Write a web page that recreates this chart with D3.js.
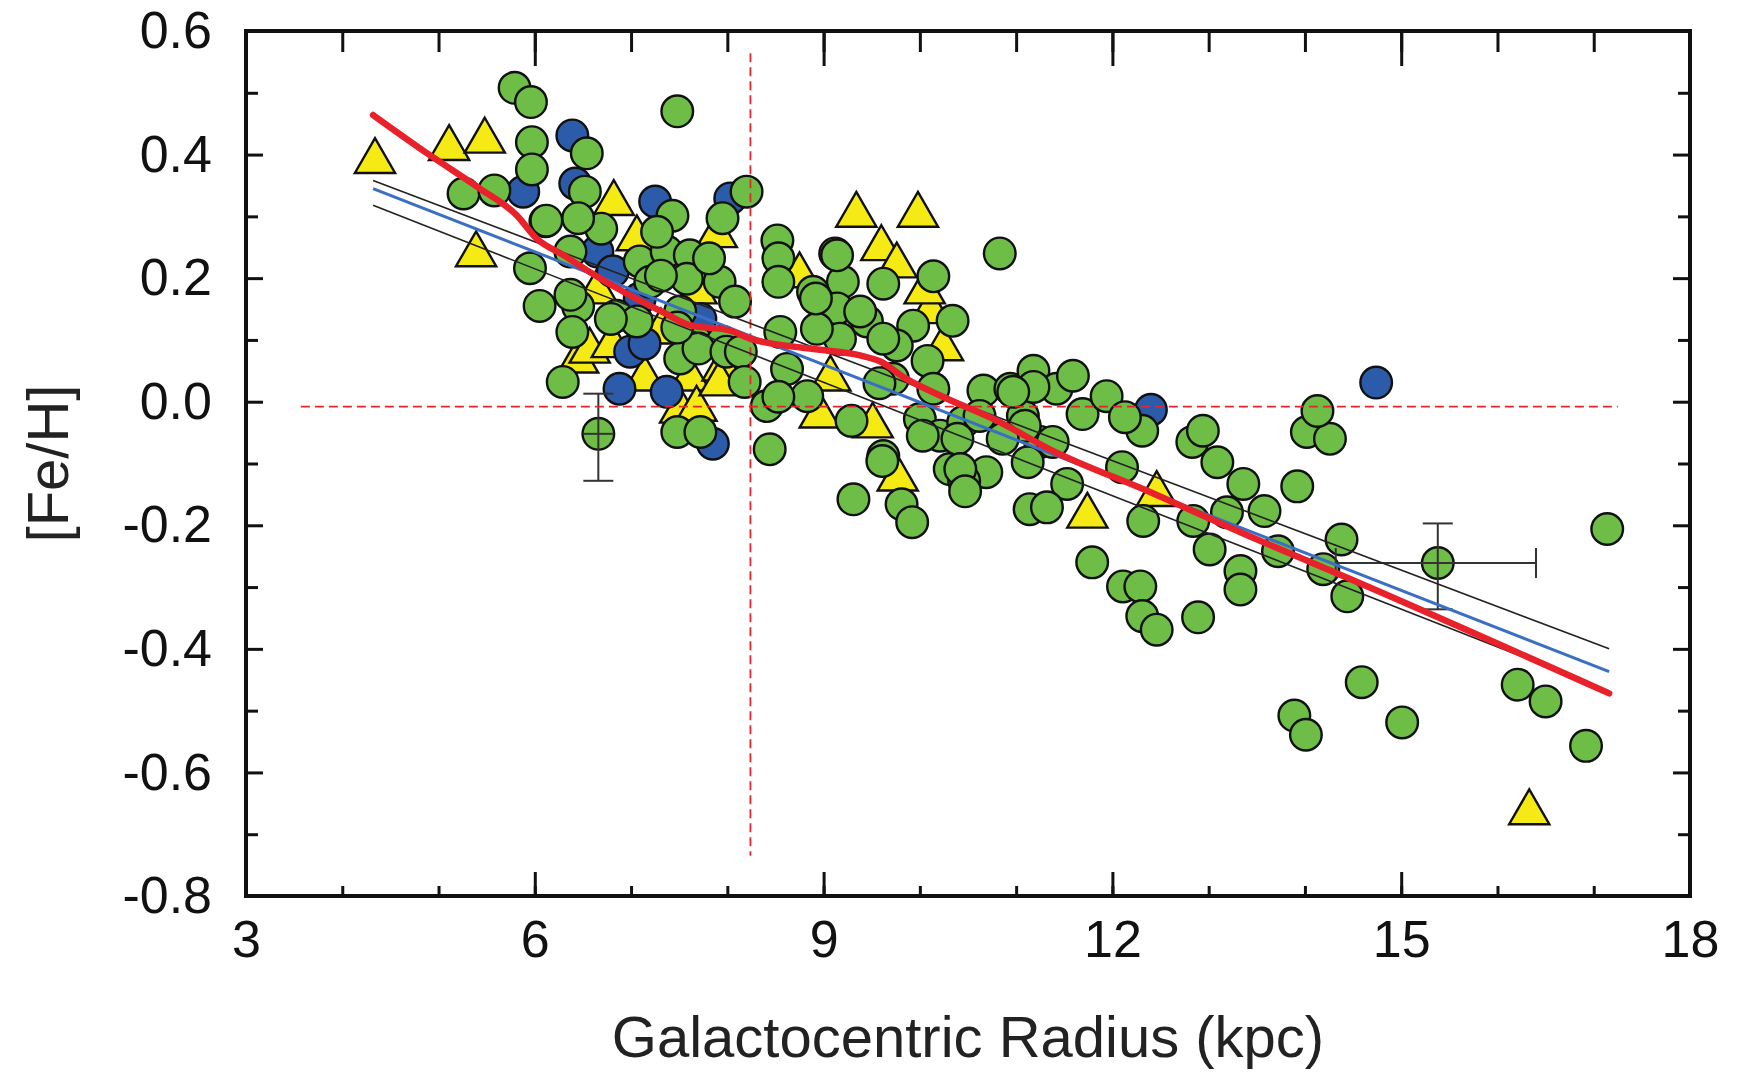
<!DOCTYPE html>
<html>
<head>
<meta charset="utf-8">
<script src="https://cdn.jsdelivr.net/npm/d3@7"></script>
<style>
  body { margin: 0; background: #fff; }
  svg { display: block; font-family: "Liberation Sans", Arial, sans-serif; }
</style>
</head>
<body>
<svg width="1738" height="1074"></svg>
<script>
// values: [galactocentric radius (kpc), [Fe/H]]
const greenStars = [
  [5.79,0.508],[5.96,0.485],[5.97,0.420],[5.97,0.376],[5.26,0.337],[5.58,0.342],[7.48,0.470],
  [6.54,0.402],[6.52,0.340],[6.11,0.292],[6.69,0.280],[6.45,0.297],[5.95,0.216],[6.37,0.243],
  [6.05,0.155],[6.45,0.154],[6.39,0.113],[6.29,0.032],[7.43,0.301],[7.95,0.297],[7.09,0.227],
  [7.37,0.243],[7.61,0.237],[7.58,0.199],[7.20,0.194],[7.92,0.194],[6.85,0.139],[7.06,0.130],
  [7.51,0.146],[7.68,0.097],[7.51,0.070],[7.95,0.097],[7.48,-0.049],[7.72,-0.049],[6.12,0.293],
  [6.79,0.134],[7.31,0.204],[7.81,0.232],[8.08,0.162],[7.70,0.086],[7.99,0.081],[8.14,0.081],
  [8.18,0.032],[8.20,0.340],[10.83,0.240],[8.52,0.261],[8.53,0.232],[9.12,0.240],[10.14,0.203],
  [9.62,0.191],[9.20,0.194],[8.89,0.178],[8.53,0.194],[9.14,0.151],[9.45,0.130],[9.93,0.123],
  [10.34,0.131],[9.76,0.091],[10.08,0.066],[9.17,0.102],[8.93,0.118],[8.55,0.113],[8.62,0.053],
  [8.83,0.009],[8.41,-0.007],[9.29,-0.031],[8.44,-0.077],[9.62,-0.088],[10.66,0.018],[10.94,0.021],
  [11.18,0.050],[11.42,0.021],[11.59,0.042],[11.07,-0.023],[11.69,-0.020],[10.00,-0.028],
  [10.21,-0.055],[10.45,-0.033],[11.25,-0.065],[9.72,0.037],[10.14,0.021],[8.53,0.008],
  [9.61,-0.096],[9.31,-0.158],[9.81,-0.166],[9.92,-0.195],[10.03,-0.055],[10.31,-0.109],
  [9.38,0.146],[8.92,0.167],[9.14,0.237],[9.62,0.102],[10.69,-0.114],[10.46,-0.128],
  [11.18,0.024],[10.97,0.016],[11.94,0.009],[12.31,-0.047],[12.13,-0.025],[11.09,-0.039],
  [10.86,-0.060],[10.62,-0.023],[10.39,-0.060],[10.42,-0.109],[10.47,-0.145],[11.12,-0.098],
  [11.38,-0.065],[11.53,-0.133],[11.14,-0.174],[11.32,-0.171],[12.10,-0.106],[12.32,-0.193],
  [12.83,-0.065],[12.94,-0.047],[13.09,-0.098],[13.36,-0.133],[12.84,-0.193],[13.01,-0.239],
  [13.19,-0.179],[13.33,-0.274],[13.33,-0.304],[13.58,-0.177],[13.72,-0.242],[13.92,-0.137],
  [14.02,-0.049],[14.26,-0.060],[14.13,-0.015],[14.19,-0.271],[14.38,-0.223],[14.44,-0.315],
  [11.79,-0.260],[12.11,-0.299],[12.29,-0.299],[12.31,-0.347],[12.46,-0.369],[12.89,-0.349],
  [13.89,-0.508],[14.01,-0.539],[14.59,-0.454],[15.01,-0.519],[16.21,-0.458],[16.50,-0.485],
  [16.92,-0.557],[17.14,-0.206],[6.37,0.173],[7.27,0.275],[7.48,0.120],[9.58,0.030]
];

const blueStars = [
  [6.39,0.431],[5.88,0.340],[6.42,0.353],[6.65,0.243],[7.25,0.324],[6.81,0.211],[6.99,0.081],
  [7.37,0.016],[7.85,-0.068],[8.03,0.329],[12.40,-0.013],[14.74,0.031],[7.09,0.167],[7.72,0.134],
  [6.88,0.021],[7.14,0.094]
];

const yellowStars = [
  [4.34,0.389],[5.11,0.410],[5.48,0.422],[5.39,0.238],[6.82,0.321],[7.14,0.037],[6.45,0.066],
  [6.57,0.082],[6.80,0.091],[7.61,0.037],[7.51,-0.015],[7.68,-0.012],[6.65,0.178],[7.89,0.269],
  [7.06,0.264],[7.95,0.053],[7.68,0.178],[7.92,0.029],[9.34,0.302],[9.98,0.302],[9.60,0.248],
  [9.76,0.220],[10.24,0.086],[10.11,0.146],[8.96,-0.023],[9.51,-0.039],[9.07,0.037],[8.75,0.204],
  [9.77,-0.125],[11.74,-0.185],[12.46,-0.150],[16.33,-0.665],[10.05,0.178],[7.31,0.113]
];

// stars with error bars: centre, x range, y range
const errorStars = [
  { x: 6.66, y: -0.052, xLo: 6.50, xHi: 6.82, yLo: -0.128, yHi: 0.013, xCaps: false },
  { x: 15.38, y: -0.261, xLo: 14.32, xHi: 16.40, yLo: -0.336, yHi: -0.197, xCaps: true }
];

// gradient fits
const redFit = [
  [4.32,0.464],[4.91,0.399],[5.43,0.345],[5.81,0.302],[6.02,0.264],[6.30,0.237],[6.57,0.210],
  [6.92,0.178],[7.33,0.145],[7.61,0.124],[8.03,0.115],[8.24,0.102],[8.86,0.086],[9.38,0.075],
  [9.59,0.065],[9.86,0.037],[10.21,0.010],[10.83,-0.033],[11.35,-0.077],[12.39,-0.146],
  [13.43,-0.218],[14.47,-0.287],[17.16,-0.472]
];
const blueFit = [[4.32,0.345],[17.16,-0.437]];
const blackFitUpper = [[4.32,0.358],[17.16,-0.400]];
const blackFitLower = [[4.32,0.318],[17.16,-0.468]];

// reference lines: solar radius and solar metallicity
const solarRadius = 8.24;
const solarRadiusSpan = [0.564, -0.735];
const solarFeH = -0.008;
const solarFeHSpan = [3.57, 17.25];

const xTicks = [3, 6, 9, 12, 15, 18];
const xMinor = d3.range(3, 19, 1);
const yTicks = [-0.8, -0.6, -0.4, -0.2, 0, 0.2, 0.4, 0.6];
const yMinor = [-0.7, -0.5, -0.3, -0.1, 0.1, 0.3, 0.5];

const svg = d3.select("svg");
const mLeft = 246, mRight = 1690, mTop = 31, mBottom = 896;

const x = d3.scaleLinear().domain([3, 18]).range([mLeft, mRight]);
const y = d3.scaleLinear().domain([-0.8, 0.6]).range([mBottom, mTop]);

const green = "#6dbd46", blue = "#2c5ca9", yellow = "#f6ea14";
const R = 15.8;

// markers: triangles underneath, then blue, then green
const tri = d3.symbol().type(d3.symbolTriangle).size(700);
svg.append("g").selectAll("path")
  .data(yellowStars)
  .enter().append("path")
    .attr("d", tri)
    .attr("transform", d => `translate(${x(d[0])},${y(d[1])})`)
    .attr("fill", yellow)
    .attr("stroke", "#111")
    .attr("stroke-width", 2.4);

svg.append("g").selectAll("circle")
  .data(blueStars)
  .enter().append("circle")
    .attr("cx", d => x(d[0]))
    .attr("cy", d => y(d[1]))
    .attr("r", R)
    .attr("fill", blue)
    .attr("stroke", "#111")
    .attr("stroke-width", 2.4);

svg.append("g").selectAll("circle")
  .data(greenStars.concat(errorStars.map(e => [e.x, e.y])))
  .enter().append("circle")
    .attr("cx", d => x(d[0]))
    .attr("cy", d => y(d[1]))
    .attr("r", R)
    .attr("fill", green)
    .attr("stroke", "#111")
    .attr("stroke-width", 2.4);

// error bars
const eb = svg.append("g").attr("stroke", "#333").attr("stroke-width", 2).attr("fill", "none");
const cap = 15;
errorStars.forEach(e => {
  eb.append("line").attr("x1", x(e.x)).attr("x2", x(e.x)).attr("y1", y(e.yLo)).attr("y2", y(e.yHi));
  eb.append("line").attr("x1", x(e.x) - cap).attr("x2", x(e.x) + cap).attr("y1", y(e.yLo)).attr("y2", y(e.yLo));
  eb.append("line").attr("x1", x(e.x) - cap).attr("x2", x(e.x) + cap).attr("y1", y(e.yHi)).attr("y2", y(e.yHi));
  eb.append("line").attr("x1", x(e.xLo)).attr("x2", x(e.xHi)).attr("y1", y(e.y)).attr("y2", y(e.y));
  if (e.xCaps) {
    eb.append("line").attr("x1", x(e.xLo)).attr("x2", x(e.xLo)).attr("y1", y(e.y) - cap).attr("y2", y(e.y) + cap);
    eb.append("line").attr("x1", x(e.xHi)).attr("x2", x(e.xHi)).attr("y1", y(e.y) - cap).attr("y2", y(e.y) + cap);
  }
});

// dashed solar reference lines
const dash = svg.append("g").attr("stroke", "#e3262d").attr("stroke-width", 1.8).attr("stroke-dasharray", "9,5");
dash.append("line")
  .attr("x1", x(solarFeHSpan[0])).attr("x2", x(solarFeHSpan[1]))
  .attr("y1", y(solarFeH)).attr("y2", y(solarFeH));
dash.append("line")
  .attr("x1", x(solarRadius)).attr("x2", x(solarRadius))
  .attr("y1", y(solarRadiusSpan[0])).attr("y2", y(solarRadiusSpan[1]));

// fits
const line = d3.line().x(d => x(d[0])).y(d => y(d[1]));
const smooth = d3.line().x(d => x(d[0])).y(d => y(d[1])).curve(d3.curveMonotoneX);

svg.append("path").datum(blackFitUpper).attr("d", line)
  .attr("fill", "none").attr("stroke", "#222").attr("stroke-width", 1.6);
svg.append("path").datum(blackFitLower).attr("d", line)
  .attr("fill", "none").attr("stroke", "#222").attr("stroke-width", 1.6);
svg.append("path").datum(blueFit).attr("d", line)
  .attr("fill", "none").attr("stroke", "#3b6fc6").attr("stroke-width", 3);
svg.append("path").datum(redFit).attr("d", smooth)
  .attr("fill", "none").attr("stroke", "#e8212b").attr("stroke-width", 6.5)
  .attr("stroke-linecap", "round").attr("stroke-linejoin", "round");

// axes (ticks point inward)
const styleAxis = g => {
  g.select(".domain").remove();
  g.selectAll(".tick line").attr("stroke", "#111").attr("stroke-width", 3);
  g.selectAll(".tick text").attr("fill", "#111").style("font-size", "52px");
};

svg.append("g").attr("transform", `translate(0,${mBottom})`)
  .call(d3.axisBottom(x).tickValues(xMinor).tickSize(-10).tickFormat(""))
  .call(styleAxis);
svg.append("g").attr("transform", `translate(0,${mBottom})`)
  .call(d3.axisBottom(x).tickValues(xTicks).tickSize(-24).tickPadding(24).tickFormat(d3.format("d")))
  .call(styleAxis);

svg.append("g").attr("transform", `translate(0,${mTop})`)
  .call(d3.axisTop(x).tickValues(xMinor).tickSize(-21).tickFormat(""))
  .call(styleAxis);
svg.append("g").attr("transform", `translate(0,${mTop})`)
  .call(d3.axisTop(x).tickValues(xTicks).tickSize(-35).tickFormat(""))
  .call(styleAxis);

svg.append("g").attr("transform", `translate(${mLeft},0)`)
  .call(d3.axisLeft(y).tickValues(yMinor).tickSize(-12).tickFormat(""))
  .call(styleAxis);
svg.append("g").attr("transform", `translate(${mLeft},0)`)
  .call(d3.axisLeft(y).tickValues(yTicks).tickSize(-17).tickPadding(34).tickFormat(d => d.toFixed(1)))
  .call(styleAxis);

svg.append("g").attr("transform", `translate(${mRight},0)`)
  .call(d3.axisRight(y).tickValues(yMinor).tickSize(-12).tickFormat(""))
  .call(styleAxis);
svg.append("g").attr("transform", `translate(${mRight},0)`)
  .call(d3.axisRight(y).tickValues(yTicks).tickSize(-17).tickFormat(""))
  .call(styleAxis);

// frame
svg.append("rect")
  .attr("x", mLeft).attr("y", mTop)
  .attr("width", mRight - mLeft).attr("height", mBottom - mTop)
  .attr("fill", "none").attr("stroke", "#111").attr("stroke-width", 4);

// titles
svg.append("text")
  .attr("x", (mLeft + mRight) / 2).attr("y", 1057)
  .attr("text-anchor", "middle")
  .attr("fill", "#222")
  .style("font-size", "58px")
  .text("Galactocentric Radius (kpc)");

svg.append("text")
  .attr("transform", `translate(68,${(mTop + mBottom) / 2}) rotate(-90)`)
  .attr("text-anchor", "middle")
  .attr("fill", "#222")
  .style("font-size", "58px")
  .text("[Fe/H]");
</script>
</body>
</html>
